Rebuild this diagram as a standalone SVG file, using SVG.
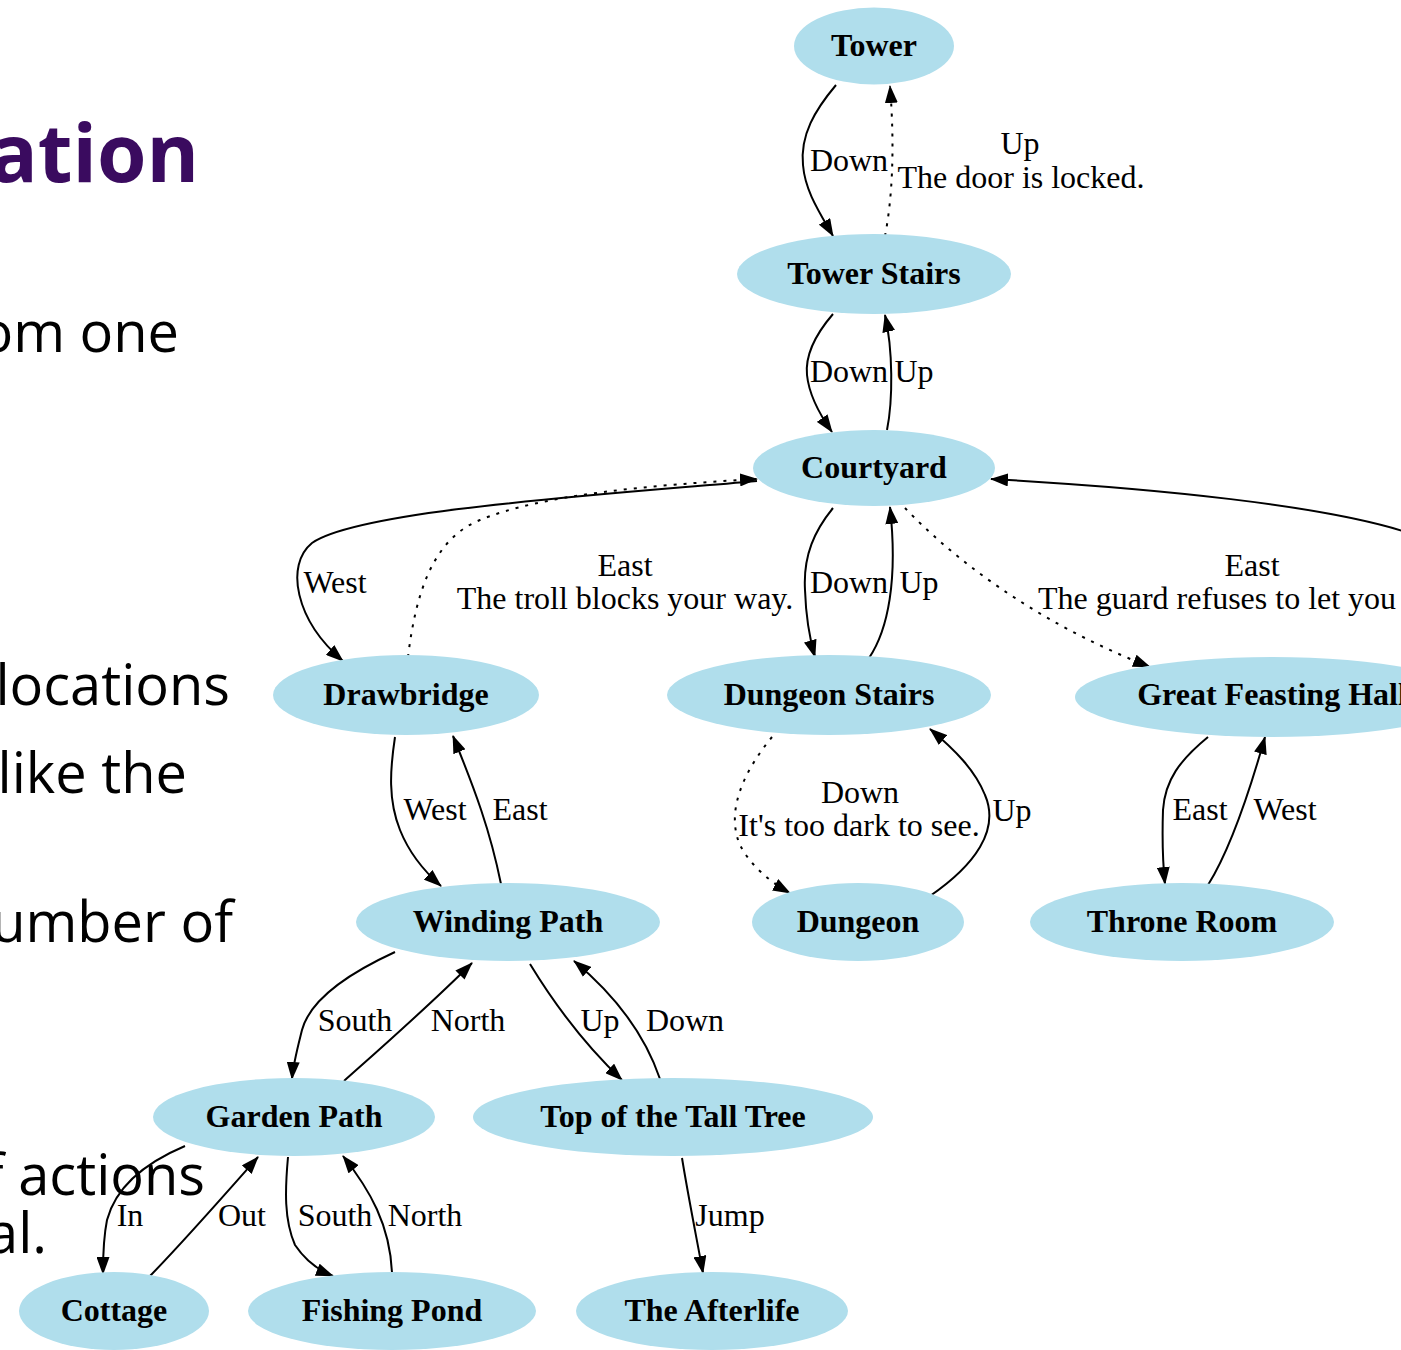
<svg xmlns="http://www.w3.org/2000/svg" width="1401" height="1350" viewBox="0 0 1401 1350">
<defs>
<style>
.bg{font-family:"Open Sans","Noto Sans",sans-serif;font-size:56px;fill:#000;text-anchor:end}
.title{font-family:"Open Sans","Noto Sans",sans-serif;font-size:80px;font-weight:bold;fill:#3a0b5f;text-anchor:end}
.node ellipse{fill:#b0deec;stroke:none}
.node text{font-family:"Liberation Serif","Times New Roman",serif;font-size:32px;font-weight:bold;fill:#000;text-anchor:middle}
.edge path{fill:none;stroke:#000;stroke-width:2;marker-end:url(#arr)}
.edge path.dot{stroke-dasharray:3,7}
.lbl{font-family:"Liberation Serif","Times New Roman",serif;font-size:32px;fill:#000;text-anchor:middle}
</style>
<marker id="arr" viewBox="0 0 18 13" refX="17" refY="6.5" markerWidth="18" markerHeight="13" orient="auto" markerUnits="userSpaceOnUse"><path d="M0,0 L18,6.5 L0,13 z" fill="#000"/></marker>
</defs>
<rect width="1401" height="1350" fill="#fff"/>
<g id="background">
<text class="title" x="199" y="182">ation</text>
<text class="bg" x="179" y="352">om one</text>
<text class="bg" x="230" y="705">locations</text>
<text class="bg" x="187" y="793">like the</text>
<text class="bg" x="233" y="942">umber of</text>
<text class="bg" x="205" y="1195">f actions</text>
<text class="bg" x="47" y="1253">al.</text>
</g>
<g id="edges" class="edge">
<path d="M836,85 C815,110 800,135 803,165 C805,190 818,210 833,236"/>
<path class="dot" d="M885,236 C892,200 895,150 890,86"/>
<path d="M833,314 C815,335 805,355 807,375 C809,395 820,415 832,432"/>
<path d="M887,430 C893,400 893,350 885,315"/>
<path d="M757,481 C600,495 360,510 312,543 C285,565 295,620 343,661"/>
<path class="dot" d="M408,657 C415,600 430,540 480,520 C540,495 650,485 757,479"/>
<path d="M833,508 C815,530 803,555 805,590 C806,620 810,640 815,657"/>
<path d="M869,658 C888,630 898,580 890,507"/>
<path class="dot" d="M905,508 C950,555 1030,620 1150,667"/>
<path d="M1415,535 C1330,505 1150,488 991,479"/>
<path d="M395,737 C390,770 388,800 400,830 C410,855 425,872 441,886"/>
<path d="M501,884 C490,830 475,790 453,736"/>
<path class="dot" d="M772,737 C745,770 725,810 740,845 C750,865 770,882 790,893"/>
<path d="M930,896 C975,865 1000,830 985,795 C975,770 955,750 930,729"/>
<path d="M1208,737 C1180,760 1165,780 1163,810 C1162,840 1163,865 1165,884"/>
<path d="M1208,885 C1230,850 1250,790 1265,737"/>
<path d="M395,952 C345,975 310,1000 302,1030 C297,1050 293,1065 292,1079"/>
<path d="M344,1081 C390,1040 430,1005 472,963"/>
<path d="M530,964 C555,1005 585,1045 622,1080"/>
<path d="M660,1079 C645,1035 615,995 574,961"/>
<path d="M185,1146 C140,1165 115,1190 107,1220 C103,1240 103,1258 103,1274"/>
<path d="M150,1276 C185,1240 220,1200 258,1157"/>
<path d="M288,1157 C285,1190 284,1220 295,1245 C305,1260 318,1270 333,1276"/>
<path d="M392,1273 C390,1225 370,1190 343,1156"/>
<path d="M682,1158 C688,1195 696,1235 703,1273"/>
</g>
<g id="edge-labels">
<text class="lbl" x="849" y="171">Down</text>
<text class="lbl" x="1020" y="154">Up</text>
<text class="lbl" x="1021" y="188">The door is locked.</text>
<text class="lbl" x="849" y="382">Down</text>
<text class="lbl" x="914" y="382">Up</text>
<text class="lbl" x="335" y="593">West</text>
<text class="lbl" x="625" y="576">East</text>
<text class="lbl" x="625" y="609">The troll blocks your way.</text>
<text class="lbl" x="849" y="593">Down</text>
<text class="lbl" x="919" y="593">Up</text>
<text class="lbl" x="1252" y="576">East</text>
<text class="lbl" x="1038" y="609" style="text-anchor:start">The guard refuses to let you</text>
<text class="lbl" x="435" y="820">West</text>
<text class="lbl" x="520" y="820">East</text>
<text class="lbl" x="860" y="803">Down</text>
<text class="lbl" x="859" y="836">It's too dark to see.</text>
<text class="lbl" x="1012" y="821">Up</text>
<text class="lbl" x="1200" y="820">East</text>
<text class="lbl" x="1285" y="820">West</text>
<text class="lbl" x="355" y="1031">South</text>
<text class="lbl" x="468" y="1031">North</text>
<text class="lbl" x="600" y="1031">Up</text>
<text class="lbl" x="685" y="1031">Down</text>
<text class="lbl" x="130" y="1226">In</text>
<text class="lbl" x="242" y="1226">Out</text>
<text class="lbl" x="335" y="1226">South</text>
<text class="lbl" x="425" y="1226">North</text>
<text class="lbl" x="730" y="1226">Jump</text>
</g>
<g id="tower" class="node"><ellipse cx="874" cy="46" rx="80" ry="38.5"/><text x="874" y="56">Tower</text></g>
<g id="tower-stairs" class="node"><ellipse cx="874" cy="274" rx="137" ry="40"/><text x="874" y="284">Tower Stairs</text></g>
<g id="courtyard" class="node"><ellipse cx="874" cy="468" rx="121" ry="38"/><text x="874" y="478">Courtyard</text></g>
<g id="drawbridge" class="node"><ellipse cx="406" cy="695" rx="133" ry="40"/><text x="406" y="705">Drawbridge</text></g>
<g id="dungeon-stairs" class="node"><ellipse cx="829" cy="695" rx="162" ry="40"/><text x="829" y="705">Dungeon Stairs</text></g>
<g id="great-feasting-hall" class="node"><ellipse cx="1272" cy="697" rx="197" ry="40"/><text x="1272" y="705">Great Feasting Hall</text></g>
<g id="dungeon" class="node"><ellipse cx="858" cy="922" rx="106" ry="39"/><text x="858" y="932">Dungeon</text></g>
<g id="throne-room" class="node"><ellipse cx="1182" cy="922" rx="152" ry="39"/><text x="1182" y="932">Throne Room</text></g>
<g id="winding-path" class="node"><ellipse cx="508" cy="922" rx="152" ry="39"/><text x="508" y="932">Winding Path</text></g>
<g id="garden-path" class="node"><ellipse cx="294" cy="1117" rx="141" ry="39"/><text x="294" y="1127">Garden Path</text></g>
<g id="top-of-the-tall-tree" class="node"><ellipse cx="673" cy="1117" rx="200" ry="39"/><text x="673" y="1127">Top of the Tall Tree</text></g>
<g id="cottage" class="node"><ellipse cx="114" cy="1311" rx="95" ry="39"/><text x="114" y="1321">Cottage</text></g>
<g id="fishing-pond" class="node"><ellipse cx="392" cy="1311" rx="144" ry="39"/><text x="392" y="1321">Fishing Pond</text></g>
<g id="the-afterlife" class="node"><ellipse cx="712" cy="1311" rx="136" ry="39"/><text x="712" y="1321">The Afterlife</text></g>
</svg>
